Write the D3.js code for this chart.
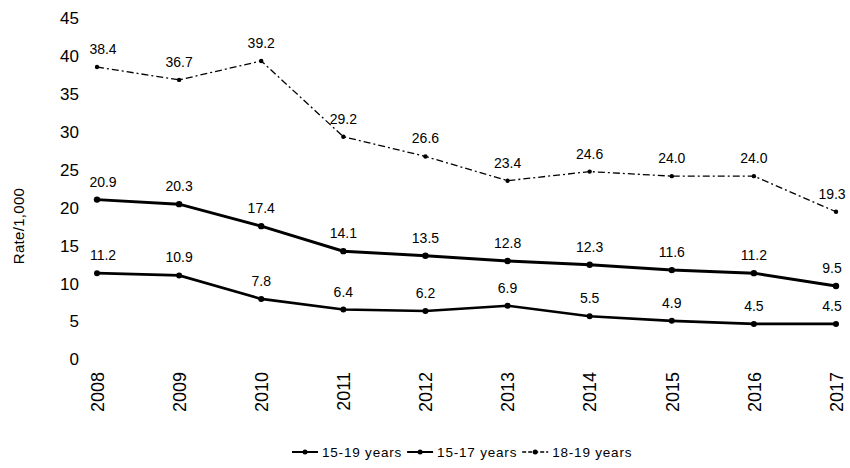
<!DOCTYPE html>
<html>
<head>
<meta charset="utf-8">
<script src="https://cdn.jsdelivr.net/npm/d3@7"></script>
<style>
  body { margin: 0; background: #fff; }
  svg text { font-family: "Liberation Sans", Arial, sans-serif; fill: #000; }
</style>
</head>
<body>
<svg class="chart"></svg>
<script>
var years = ["2008", "2009", "2010", "2011", "2012", "2013", "2014", "2015", "2016", "2017"];
var age1519 = [20.9, 20.3, 17.4, 14.1, 13.5, 12.8, 12.3, 11.6, 11.2, 9.5];
var age1517 = [11.2, 10.9, 7.8, 6.4, 6.2, 6.9, 5.5, 4.9, 4.5, 4.5];
var age1819 = [38.4, 36.7, 39.2, 29.2, 26.6, 23.4, 24.6, 24.0, 24.0, 19.3];
var yTicks = [0, 5, 10, 15, 20, 25, 30, 35, 40, 45];

var series = [
  { name: "15-19 years", values: age1519, width: 3, dash: null, r: 3.2 },
  { name: "15-17 years", values: age1517, width: 2.6, dash: null, r: 3 },
  { name: "18-19 years", values: age1819, width: 1.3, dash: "7,3,2,3", r: 2.2 }
];

var width = 850, height = 468;

var svg = d3.select('.chart')
    .attr('width', width)
    .attr('height', height);

var x = d3.scalePoint()
    .domain(years)
    .range([97, 836]);

var y = d3.scaleLinear()
    .domain([0, 45])
    .range([358, 17]);

// y axis, no line, no ticks
var yAxis = svg.append('g')
    .attr('transform', 'translate(79, 0)')
    .call(d3.axisLeft(y).tickValues(yTicks).tickSize(0).tickPadding(0));
yAxis.select('.domain').remove();
yAxis.selectAll('text')
    .style('font-size', '17px')
    .attr('dy', '0.4em');

// x axis, rotated labels
var xAxis = svg.append('g')
    .attr('transform', 'translate(0, 372)')
    .call(d3.axisBottom(x).tickSize(0).tickPadding(0));
xAxis.select('.domain').remove();
xAxis.selectAll('text')
    .style('font-size', '18px')
    .attr('text-anchor', 'end')
    .attr('transform', 'rotate(-90)')
    .attr('x', 0)
    .attr('y', 0)
    .attr('dy', '0.35em');

svg.append('text')
    .attr('transform', 'translate(19, 226) rotate(-90)')
    .attr('text-anchor', 'middle')
    .attr('dy', '0.35em')
    .style('font-size', '15px')
    .style('letter-spacing', '0.3px')
    .text('Rate/1,000');

var line = d3.line()
    .x(function(d, i) { return x(years[i]); })
    .y(function(d) { return y(d); });

series.forEach(function(s) {
  var g = svg.append('g');
  g.append('path')
      .datum(s.values)
      .attr('d', line)
      .attr('fill', 'none')
      .attr('stroke', '#000')
      .attr('stroke-width', s.width)
      .attr('stroke-dasharray', s.dash);
  g.selectAll('circle')
      .data(s.values)
      .enter().append('circle')
      .attr('cx', function(d, i) { return x(years[i]); })
      .attr('cy', function(d) { return y(d); })
      .attr('r', s.r)
      .attr('fill', '#000');
  g.selectAll('.lbl')
      .data(s.values)
      .enter().append('text')
      .attr('class', 'lbl')
      .attr('x', function(d, i) { return x(years[i]) + (i === 0 ? 6 : (i === years.length - 1 ? -4 : 0)); })
      .attr('y', function(d) { return y(d) - 13; })
      .attr('text-anchor', 'middle')
      .style('font-size', '14px')
      .text(function(d) { return d.toFixed(1); });
});

// legend
var legend = svg.append('g').attr('transform', 'translate(292, 452)');
var lx = 0;
series.forEach(function(s) {
  var item = legend.append('g').attr('transform', 'translate(' + lx + ', 0)');
  item.append('line')
      .attr('x1', 0).attr('x2', 26)
      .attr('stroke', '#000')
      .attr('stroke-width', Math.min(s.width, 2))
      .attr('stroke-dasharray', s.dash ? '4,2' : null);
  item.append('circle')
      .attr('cx', 13).attr('r', 2.5).attr('fill', '#000');
  var t = item.append('text')
      .attr('x', 30)
      .attr('dy', '0.35em')
      .style('font-size', '13.5px')
      .style('letter-spacing', '0.8px')
      .text(s.name);
  lx += 30 + t.node().getComputedTextLength() + 5;
});
</script>
</body>
</html>
